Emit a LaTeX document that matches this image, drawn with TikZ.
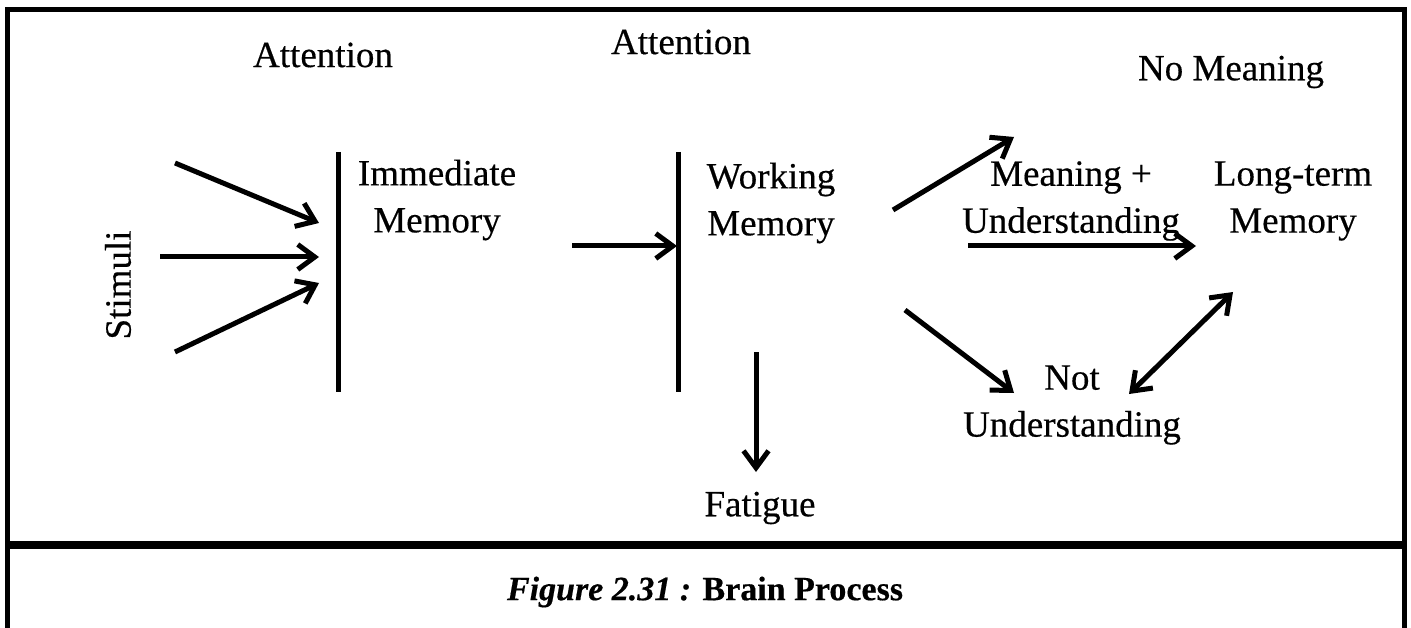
\documentclass[tikz,border=0pt]{standalone}
\usepackage{fontspec}
\setmainfont{Liberation Serif}[FakeBold=0.4]
\usetikzlibrary{arrows.meta}

\begin{document}
\begin{tikzpicture}[x=1pt, y=-1pt, every node/.style={font=\fontsize{37}{47}\selectfont, align=center, inner sep=0pt},
	flow/.style={line width=5pt, -{Straight Barb[length=17pt, width=25pt]}},
	twoway/.style={line width=5pt, {Straight Barb[length=17pt, width=25pt]}-{Straight Barb[length=17pt, width=25pt]}},
	bar/.style={line width=5pt}]
	\useasboundingbox (0,0) rectangle (1411,628);
	\draw[line width=5pt] (7,640) -- (7,10) -- (1404,10) -- (1404,640);
	\draw[line width=8pt] (7,545) -- (1404,545);
	\node (att1) at (323,55) {Attention};
	\node (att2) at (681,42) {Attention};
	\node (nomean) at (1231,72) {No Meaning};
	\node (imm) at (437,200) {Immediate\\Memory};
	\node (work) at (771,203) {Working\\Memory};
	\node (mean) at (1071,201) {Meaning +\\Understanding};
	\node (long) at (1293,201) {Long-term\\Memory};
	\node (notu) at (1072,405) {Not\\Understanding};
	\node (fat) at (760,508) {Fatigue};
	\node[rotate=90] (stim) at (118,285) {Stimuli};
	\node[font=\fontsize{34}{40}\selectfont\bfseries] (cap) at (705,592) {\textit{Figure 2.31 :} Brain Process};
	\coordinate (bar1top) at (338,152);
	\coordinate (bar1bot) at (338,392);
	\coordinate (bar2top) at (678,152);
	\coordinate (bar2bot) at (678,392);
	\draw[bar] (bar1top) -- (bar1bot);
	\draw[bar] (bar2top) -- (bar2bot);
	\coordinate (s1) at (175,163);
	\coordinate (s2) at (160,257);
	\coordinate (s3) at (175,352);
	\coordinate (i1) at (319,223);
	\coordinate (i2) at (319,257);
	\coordinate (i3) at (319,283);
	\draw[flow] (s1) -- (i1);
	\draw[flow] (s2) -- (i2);
	\draw[flow] (s3) -- (i3);
	\coordinate (w0) at (572,246);
	\coordinate (w1) at (677,246);
	\draw[flow] (w0) -- (w1);
	\coordinate (f0) at (756,352);
	\coordinate (f1) at (756,472);
	\draw[flow] (f0) -- (f1);
	\coordinate (u0) at (893,210);
	\coordinate (u1) at (1014,137);
	\draw[flow] (u0) -- (u1);
	\coordinate (m0) at (968,246);
	\coordinate (m1) at (1196,246);
	\draw[flow] (m0) -- (m1);
	\coordinate (d0) at (905,310);
	\coordinate (d1) at (1014,393);
	\draw[flow] (d0) -- (d1);
	\coordinate (n0) at (1129,394);
	\coordinate (n1) at (1233,292);
	\draw[twoway] (n0) -- (n1);
\end{tikzpicture}
\end{document}
